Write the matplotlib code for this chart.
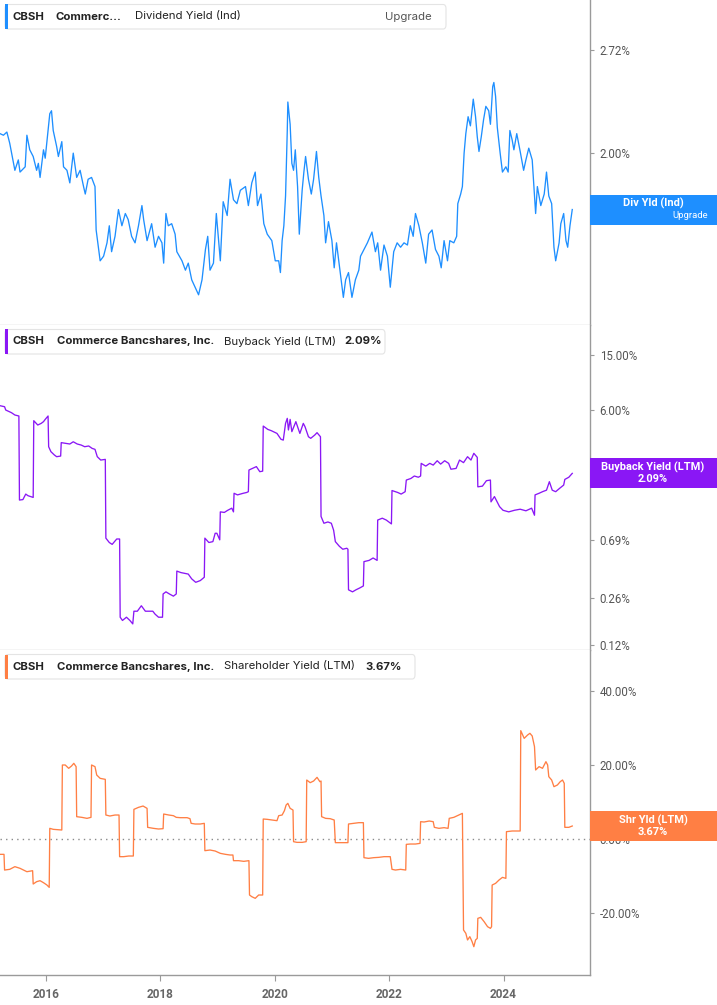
import matplotlib
matplotlib.use("Agg")
import matplotlib.pyplot as plt
from matplotlib.patches import FancyBboxPatch, Rectangle
from matplotlib.ticker import FixedLocator, FixedFormatter, NullLocator

# ---------------- DATA ----------------
div_dates = [2015.20, 2015.26, 2015.32, 2015.37, 2015.46, 2015.52, 2015.55, 2015.61, 2015.64, 2015.67,
             2015.72, 2015.78, 2015.84, 2015.87, 2015.90, 2015.96, 2015.99, 2016.05, 2016.07, 2016.10,
             2016.13, 2016.19, 2016.22, 2016.28, 2016.31, 2016.37, 2016.42, 2016.48, 2016.54, 2016.60,
             2016.66, 2016.69, 2016.74, 2016.80, 2016.86, 2016.88, 2016.95, 2017.01, 2017.07, 2017.11,
             2017.15, 2017.21, 2017.27, 2017.33, 2017.39, 2017.44, 2017.50, 2017.56, 2017.62, 2017.68,
             2017.71, 2017.77, 2017.85, 2017.91, 2017.97, 2018.03, 2018.06, 2018.10, 2018.14, 2018.20,
             2018.26, 2018.29, 2018.38, 2018.44, 2018.49, 2018.55, 2018.61, 2018.67, 2018.73, 2018.79,
             2018.83, 2018.87, 2018.93, 2018.98, 2019.02, 2019.05, 2019.10, 2019.17, 2019.22, 2019.28,
             2019.34, 2019.40, 2019.49, 2019.54, 2019.60, 2019.66, 2019.70, 2019.76, 2019.81, 2019.87,
             2019.95, 2020.01, 2020.07, 2020.10, 2020.13, 2020.16, 2020.19, 2020.22, 2020.23, 2020.27,
             2020.30, 2020.33, 2020.36, 2020.40, 2020.43, 2020.48, 2020.51, 2020.54, 2020.59, 2020.64,
             2020.68, 2020.73, 2020.77, 2020.81, 2020.86, 2020.89, 2020.94, 2021.00, 2021.04, 2021.08,
             2021.14, 2021.20, 2021.24, 2021.29, 2021.35, 2021.41, 2021.47, 2021.50, 2021.56, 2021.62,
             2021.70, 2021.76, 2021.80, 2021.85, 2021.91, 2021.97, 2022.02, 2022.08, 2022.14, 2022.20,
             2022.26, 2022.32, 2022.37, 2022.42, 2022.46, 2022.52, 2022.58, 2022.64, 2022.69, 2022.75,
             2022.81, 2022.87, 2022.91, 2022.96, 2023.02, 2023.06, 2023.13, 2023.18, 2023.20, 2023.25,
             2023.28, 2023.31, 2023.34, 2023.38, 2023.42, 2023.47, 2023.51, 2023.54, 2023.57, 2023.61,
             2023.65, 2023.69, 2023.74, 2023.77, 2023.81, 2023.83, 2023.86, 2023.89, 2023.94, 2023.98,
             2024.04, 2024.08, 2024.11, 2024.15, 2024.18, 2024.23, 2024.29, 2024.35, 2024.39, 2024.44,
             2024.50, 2024.56, 2024.59, 2024.65, 2024.71, 2024.75, 2024.79, 2024.84, 2024.88, 2024.91,
             2024.97, 2025.00, 2025.05, 2025.09, 2025.12, 2025.16, 2025.20]
div_yield = [2.12, 2.11, 2.13, 2.06, 1.90, 1.96, 1.89, 1.91, 1.92, 2.11,
             2.02, 1.98, 1.90, 1.94, 1.86, 2.02, 1.97, 2.18, 2.25, 2.27,
             2.14, 2.04, 1.98, 2.07, 1.92, 1.90, 1.83, 2.00, 1.86, 1.90,
             1.81, 1.77, 1.85, 1.86, 1.81, 1.59, 1.45, 1.47, 1.53, 1.61,
             1.49, 1.56, 1.69, 1.61, 1.67, 1.64, 1.56, 1.53, 1.61, 1.71,
             1.64, 1.54, 1.62, 1.51, 1.56, 1.53, 1.44, 1.67, 1.61, 1.62,
             1.57, 1.49, 1.45, 1.41, 1.44, 1.37, 1.34, 1.31, 1.37, 1.50,
             1.56, 1.41, 1.44, 1.67, 1.54, 1.45, 1.73, 1.66, 1.85, 1.74,
             1.72, 1.79, 1.81, 1.71, 1.83, 1.89, 1.71, 1.77, 1.62, 1.57,
             1.54, 1.45, 1.45, 1.40, 1.54, 1.61, 1.76, 2.14, 2.33, 2.18,
             1.94, 1.90, 2.02, 1.81, 1.57, 1.79, 1.89, 1.98, 1.85, 1.77,
             1.85, 2.01, 1.86, 1.76, 1.66, 1.53, 1.63, 1.54, 1.42, 1.53,
             1.41, 1.30, 1.37, 1.40, 1.30, 1.37, 1.41, 1.47, 1.50, 1.53,
             1.58, 1.49, 1.53, 1.41, 1.52, 1.47, 1.34, 1.49, 1.53, 1.51,
             1.53, 1.52, 1.61, 1.56, 1.67, 1.61, 1.53, 1.44, 1.57, 1.59,
             1.50, 1.47, 1.42, 1.54, 1.45, 1.54, 1.53, 1.56, 1.72, 1.77,
             1.81, 2.00, 2.12, 2.23, 2.17, 2.35, 2.23, 2.10, 2.01, 2.10,
             2.21, 2.30, 2.27, 2.18, 2.44, 2.47, 2.37, 2.16, 2.00, 1.89,
             1.92, 1.89, 2.14, 2.08, 2.02, 2.12, 2.01, 1.90, 1.96, 2.03,
             1.96, 1.67, 1.81, 1.71, 1.77, 1.89, 1.76, 1.72, 1.51, 1.45,
             1.53, 1.62, 1.67, 1.54, 1.51, 1.61, 1.69]

bb_dates = [2015.20, 2015.28, 2015.30, 2015.40, 2015.46, 2015.53, 2015.54, 2015.60, 2015.65, 2015.69,
            2015.78, 2015.79, 2015.86, 2015.92, 2015.96, 2015.99, 2016.04, 2016.05, 2016.09, 2016.15,
            2016.19, 2016.26, 2016.27, 2016.35, 2016.42, 2016.48, 2016.55, 2016.62, 2016.68, 2016.75,
            2016.81, 2016.86, 2016.90, 2016.96, 2017.04, 2017.05, 2017.11, 2017.16, 2017.24, 2017.29,
            2017.30, 2017.34, 2017.41, 2017.47, 2017.52, 2017.54, 2017.60, 2017.67, 2017.74, 2017.80,
            2017.87, 2017.91, 2017.97, 2018.04, 2018.05, 2018.10, 2018.16, 2018.23, 2018.28, 2018.29,
            2018.36, 2018.49, 2018.55, 2018.62, 2018.70, 2018.77, 2018.78, 2018.85, 2018.92, 2018.96,
            2018.99, 2019.04, 2019.05, 2019.12, 2019.18, 2019.25, 2019.28, 2019.29, 2019.35, 2019.45,
            2019.51, 2019.54, 2019.55, 2019.61, 2019.68, 2019.74, 2019.79, 2019.80, 2019.88, 2019.94,
            2020.04, 2020.11, 2020.15, 2020.19, 2020.22, 2020.24, 2020.27, 2020.30, 2020.37, 2020.44,
            2020.50, 2020.53, 2020.59, 2020.63, 2020.70, 2020.74, 2020.80, 2020.81, 2020.86, 2020.93,
            2020.99, 2021.03, 2021.06, 2021.13, 2021.19, 2021.26, 2021.28, 2021.29, 2021.36, 2021.42,
            2021.49, 2021.55, 2021.56, 2021.65, 2021.72, 2021.79, 2021.80, 2021.88, 2021.95, 2022.04,
            2022.05, 2022.15, 2022.21, 2022.28, 2022.30, 2022.38, 2022.44, 2022.51, 2022.55, 2022.56,
            2022.64, 2022.71, 2022.77, 2022.84, 2022.90, 2022.97, 2023.04, 2023.08, 2023.17, 2023.23,
            2023.30, 2023.37, 2023.43, 2023.48, 2023.54, 2023.55, 2023.63, 2023.70, 2023.77, 2023.78,
            2023.84, 2023.93, 2023.99, 2024.09, 2024.19, 2024.29, 2024.39, 2024.49, 2024.54, 2024.55,
            2024.62, 2024.68, 2024.75, 2024.80, 2024.85, 2024.91, 2024.98, 2025.05, 2025.07, 2025.14,
            2025.20]
bb_yield = [6.46, 6.35, 6.01, 5.75, 5.53, 5.44, 1.34, 1.35, 1.48, 1.44,
            1.40, 5.03, 4.68, 4.81, 4.95, 5.14, 5.44, 3.26, 3.00, 2.84,
            2.76, 2.79, 3.49, 3.45, 3.41, 3.54, 3.41, 3.35, 3.26, 3.30,
            3.17, 3.12, 2.76, 2.61, 2.64, 0.71, 0.66, 0.64, 0.70, 0.70,
            0.19, 0.18, 0.19, 0.18, 0.17, 0.21, 0.21, 0.23, 0.21, 0.21,
            0.21, 0.20, 0.19, 0.19, 0.28, 0.29, 0.28, 0.27, 0.28, 0.41,
            0.40, 0.39, 0.36, 0.34, 0.35, 0.37, 0.71, 0.66, 0.67, 0.77,
            0.77, 0.69, 1.10, 1.09, 1.13, 1.17, 1.10, 1.50, 1.46, 1.50,
            1.52, 1.54, 2.21, 2.27, 2.34, 2.15, 2.17, 4.60, 4.35, 4.26,
            4.07, 3.69, 3.64, 4.81, 5.23, 4.31, 5.14, 4.19, 4.95, 4.07,
            4.81, 4.55, 3.85, 3.75, 3.96, 4.12, 3.85, 1.02, 0.91, 0.93,
            0.91, 0.81, 0.67, 0.62, 0.59, 0.60, 0.59, 0.30, 0.29, 0.30,
            0.31, 0.32, 0.48, 0.49, 0.51, 0.49, 0.96, 0.99, 0.96, 0.90,
            1.57, 1.52, 1.48, 1.54, 1.87, 1.92, 2.00, 1.96, 2.00, 2.47,
            2.36, 2.47, 2.40, 2.58, 2.44, 2.58, 2.47, 2.24, 2.27, 2.61,
            2.50, 2.76, 2.61, 2.92, 2.73, 1.67, 1.69, 1.85, 1.87, 1.30,
            1.42, 1.20, 1.13, 1.10, 1.13, 1.15, 1.12, 1.17, 1.04, 1.46,
            1.50, 1.54, 1.58, 1.82, 1.58, 1.54, 1.63, 1.72, 1.89, 1.96,
            2.09]

sh_dates = [2015.20, 2015.27, 2015.28, 2015.37, 2015.46, 2015.55, 2015.61, 2015.67, 2015.77, 2015.78,
            2015.84, 2015.90, 2015.96, 2016.02, 2016.06, 2016.07, 2016.13, 2016.28, 2016.29, 2016.34,
            2016.40, 2016.45, 2016.49, 2016.53, 2016.54, 2016.63, 2016.72, 2016.79, 2016.80, 2016.86,
            2016.89, 2016.95, 2017.04, 2017.05, 2017.12, 2017.21, 2017.28, 2017.29, 2017.36, 2017.45,
            2017.53, 2017.54, 2017.62, 2017.70, 2017.77, 2017.78, 2017.88, 2017.97, 2018.05, 2018.06,
            2018.15, 2018.23, 2018.28, 2018.35, 2018.47, 2018.52, 2018.54, 2018.61, 2018.70, 2018.77,
            2018.78, 2018.87, 2018.96, 2019.05, 2019.14, 2019.22, 2019.27, 2019.28, 2019.37, 2019.46,
            2019.55, 2019.56, 2019.60, 2019.66, 2019.72, 2019.79, 2019.80, 2019.87, 2019.95, 2020.04,
            2020.07, 2020.13, 2020.17, 2020.20, 2020.23, 2020.27, 2020.32, 2020.33, 2020.39, 2020.48,
            2020.55, 2020.56, 2020.62, 2020.68, 2020.74, 2020.79, 2020.81, 2020.82, 2020.89, 2020.97,
            2021.04, 2021.06, 2021.15, 2021.28, 2021.29, 2021.38, 2021.47, 2021.55, 2021.56, 2021.64,
            2021.73, 2021.82, 2021.91, 2022.02, 2022.05, 2022.11, 2022.20, 2022.29, 2022.30, 2022.37,
            2022.46, 2022.54, 2022.55, 2022.61, 2022.70, 2022.77, 2022.79, 2022.87, 2022.96, 2023.03,
            2023.05, 2023.13, 2023.22, 2023.28, 2023.30, 2023.34, 2023.37, 2023.41, 2023.45, 2023.48,
            2023.51, 2023.54, 2023.55, 2023.60, 2023.66, 2023.72, 2023.77, 2023.79, 2023.80, 2023.86,
            2023.92, 2023.98, 2024.04, 2024.05, 2024.15, 2024.29, 2024.30, 2024.36, 2024.42, 2024.46,
            2024.50, 2024.54, 2024.56, 2024.62, 2024.68, 2024.74, 2024.77, 2024.79, 2024.84, 2024.88,
            2024.94, 2024.99, 2025.03, 2025.06, 2025.07, 2025.14, 2025.20]
sh_yield = [-4.15, -4.15, -8.39, -8.20, -7.48, -7.93, -8.39, -8.84, -8.57, -12.17,
            -11.54, -11.27, -11.81, -12.44, -13.07, 2.88, 2.61, 2.43, 20.00, 20.00,
            19.10, 19.73, 20.45, 19.55, 6.03, 5.85, 5.58, 5.85, 20.00, 19.55,
            17.29, 16.39, 16.12, 6.48, 6.21, 6.48, 6.48, -4.78, -4.78, -4.60,
            -4.60, 8.01, 8.55, 8.91, 8.28, 3.15, 2.88, 2.70, 2.79, 6.75,
            6.48, 6.30, 5.85, 5.76, 5.76, 5.49, 4.23, 4.05, 4.05, 4.23,
            -3.16, -2.98, -3.25, -3.88, -4.15, -4.33, -4.33, -5.86, -5.86, -6.04,
            -5.86, -15.14, -15.59, -16.04, -15.14, -15.14, 5.40, 5.31, 5.13, 4.95,
            6.30, 6.48, 7.65, 9.18, 9.63, 8.28, 7.83, -0.73, -0.91, -0.91,
            -0.73, 15.94, 15.22, 15.67, 16.66, 15.49, 15.67, 6.03, 5.58, 5.49,
            5.13, -0.99, -0.99, -0.99, 4.05, 4.23, 4.41, 4.41, -5.05, -5.23,
            -5.05, -4.96, -4.78, -4.78, -8.20, -8.39, -8.20, -8.39, -1.45, -1.36,
            -1.36, -1.18, 4.68, 4.59, 4.86, 4.68, 3.15, 2.88, 3.06, 2.88,
            5.58, 5.85, 6.48, 6.93, -24.60, -25.50, -27.30, -26.40, -27.76, -29.11,
            -27.30, -26.86, -21.45, -21.18, -22.35, -23.70, -24.15, -23.70, -12.44, -11.99,
            -11.09, -10.37, -10.64, 1.98, 2.16, 2.16, 29.28, 27.20, 28.11, 28.56,
            27.84, 24.95, 18.65, 19.55, 19.10, 20.90, 20.00, 16.84, 15.94, 14.14,
            14.59, 15.49, 15.94, 15.04, 3.15, 3.15, 3.51]

year_ticks = [2016, 2018, 2020, 2022, 2024]
div_ticks = [2.00, 2.72]
bb_ticks = [0.12, 0.26, 0.69, 2.00, 6.00, 15.00]
sh_ticks = [-20, 0, 20, 40]

# ---------------- STYLE ----------------
W, H = 717, 1005
C_DIV = "#1E8FFF"
C_BB = "#8A17F5"
C_SH = "#FF7F44"
AX_COL = "#9a9a9a"
TXT = "#222222"
TICK_TXT = "#555555"
XLIM = (2015.2, 2025.51)
LW = 0.95

fig = plt.figure(figsize=(W / 100, H / 100), dpi=100)
fig.patch.set_facecolor("white")


def fx(px):
    return px / W


def fy(py):
    return 1 - py / H


def make_ax(top, bottom):
    ax = fig.add_axes([0, fy(bottom), fx(590), (bottom - top) / H])
    ax.set_facecolor("white")
    for s in ("left", "top"):
        ax.spines[s].set_visible(False)
    ax.spines["right"].set_color(AX_COL)
    ax.spines["right"].set_linewidth(1.0)
    ax.spines["bottom"].set_color("#d0d0d0")
    ax.spines["bottom"].set_linewidth(1.0)
    ax.yaxis.tick_right()
    ax.tick_params(axis="y", direction="out", length=3, width=0.8, color=AX_COL,
                   labelsize=8.3, labelcolor=TICK_TXT, pad=4)
    ax.set_xlim(*XLIM)
    return ax


def fmt_pct(vals):
    return ["%.2f%%" % v for v in vals]


# Panel 1: dividend yield (log)
ax1 = make_ax(0, 325)
ax1.plot(div_dates, div_yield, color=C_DIV, lw=LW)
ax1.set_yscale("log")
ax1.set_ylim(1.197, 3.16)
ax1.yaxis.set_major_locator(FixedLocator(div_ticks))
ax1.yaxis.set_major_formatter(FixedFormatter(fmt_pct(div_ticks)))
ax1.yaxis.set_minor_locator(NullLocator())
ax1.xaxis.set_major_locator(NullLocator())

# Panel 2: buyback yield (log)
ax2 = make_ax(325, 650)
ax2.plot(bb_dates, bb_yield, color=C_BB, lw=LW)
ax2.set_yscale("log")
ax2.set_ylim(0.110, 24.8)
ax2.yaxis.set_major_locator(FixedLocator(bb_ticks))
ax2.yaxis.set_major_formatter(FixedFormatter(fmt_pct(bb_ticks)))
ax2.yaxis.set_minor_locator(NullLocator())
ax2.xaxis.set_major_locator(NullLocator())

# Panel 3: shareholder yield (linear)
ax3 = make_ax(650, 975)
ax3.axhline(0, color="#8a8a8a", lw=1.0, ls=(0, (1, 3)))
ax3.plot(sh_dates, sh_yield, color=C_SH, lw=LW)
ax3.set_ylim(-36.76, 51.08)
ax3.yaxis.set_major_locator(FixedLocator(sh_ticks))
ax3.yaxis.set_major_formatter(FixedFormatter(fmt_pct(sh_ticks)))
ax3.spines["bottom"].set_color(AX_COL)
ax3.xaxis.set_major_locator(FixedLocator(year_ticks))
ax3.xaxis.set_major_formatter(FixedFormatter([str(y) for y in year_ticks]))
ax3.tick_params(axis="x", direction="out", length=4, width=0.8, color=AX_COL,
                labelsize=8.5, labelcolor="#666666", pad=5)
for lab in ax3.get_xticklabels():
    lab.set_fontfamily("Roboto")
    lab.set_fontweight("bold")

for ax in (ax1, ax2, ax3):
    for lab in ax.get_yticklabels():
        lab.set_fontfamily("Roboto")

# ---------------- HEADERS ----------------
def header(top, right, color, parts):
    box = FancyBboxPatch((fx(5), fy(top + 25)), fx(right - 5), 24.5 / H,
                         boxstyle="round,pad=0,rounding_size=0.004",
                         transform=fig.transFigure, facecolor="white",
                         edgecolor="#e4e4e4", lw=0.8, zorder=5)
    fig.patches.append(box)
    bar = Rectangle((fx(4.5), fy(top + 25)), fx(3), 24.5 / H, transform=fig.transFigure,
                    facecolor=color, edgecolor="none", zorder=6)
    fig.patches.append(bar)
    yc = fy(top + 12.5)
    for x, txt, weight, col in parts:
        fig.text(fx(x), yc, txt, ha="left", va="center", fontsize=8.2, fontweight=weight,
                 color=col, family=["Inter", "DejaVu Sans"], zorder=7)


header(4, 446, C_DIV, [(13, "CBSH", "bold", TXT), (56, "Commerc…", "bold", TXT),
                       (135, "Dividend Yield (Ind)", "normal", TXT),
                       (385, "Upgrade", "normal", "#555555")])
header(329, 385, C_BB, [(13, "CBSH", "bold", TXT), (57, "Commerce Bancshares, Inc.", "bold", TXT),
                        (224, "Buyback Yield (LTM)", "normal", TXT),
                        (344, "2.09%", "bold", TXT)])
header(654, 415, C_SH, [(13, "CBSH", "bold", TXT), (57, "Commerce Bancshares, Inc.", "bold", TXT),
                        (224, "Shareholder Yield (LTM)", "normal", TXT),
                        (365, "3.67%", "bold", TXT)])

# ---------------- RIGHT-SIDE LABEL BOXES ----------------
def last_label(ax, last_x, last_y, color, line1, line2, small2=False):
    disp = ax.transData.transform((last_x, last_y))
    ypx = H - disp[1]
    rect = Rectangle((fx(590), fy(ypx + 15)), fx(127), 30 / H, transform=fig.transFigure,
                     facecolor=color, edgecolor="none", zorder=8)
    fig.patches.append(rect)
    fig.text(fx(653), fy(ypx - 6), line1, ha="center", va="center", fontsize=7.9,
             fontweight="bold", color="white", family=["Roboto", "DejaVu Sans"], zorder=9)
    if small2:
        fig.text(fx(708), fy(ypx + 6), line2, ha="right", va="center", fontsize=6.8,
                 color="white", family=["Roboto", "DejaVu Sans"], zorder=9)
    else:
        fig.text(fx(653), fy(ypx + 6), line2, ha="center", va="center", fontsize=7.9,
                 fontweight="bold", color="white", family=["Roboto", "DejaVu Sans"], zorder=9)


last_label(ax1, div_dates[-1], div_yield[-1], C_DIV, "Div Yld (Ind)", "Upgrade", small2=True)
last_label(ax2, bb_dates[-1], bb_yield[-1], C_BB, "Buyback Yield (LTM)", "2.09%")
last_label(ax3, sh_dates[-1], sh_yield[-1], C_SH, "Shr Yld (LTM)", "3.67%")

fig.savefig("out.png", dpi=100, facecolor="white")
